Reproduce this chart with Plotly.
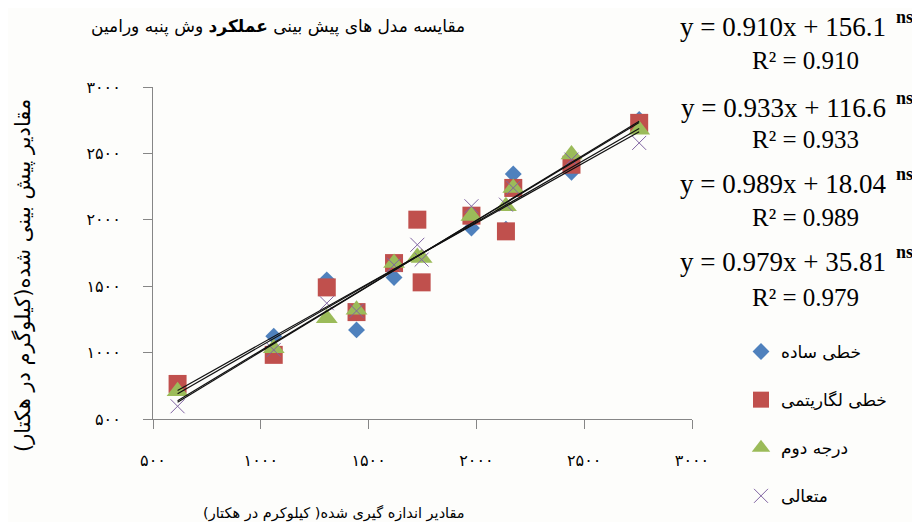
import plotly.graph_objects as go

# ---------------- data ----------------
measured = [614, 1060, 1306, 1444, 1618, 1726, 1746, 1977, 2137, 2171, 2441, 2755]
linear_simple = [750, 1124, 1548, 1171, 1566, 2000, 1530, 1938, 1930, 2345, 2358, 2755]
linear_log = [764, 983, 1491, 1305, 1674, 2001, 1529, 2031, 1913, 2240, 2415, 2730]
second_degree = [709, 1033, 1259, 1322, 1674, 1720, 1712, 2029, 2102, 2240, 2491, 2679]
exponential = [596, 1020, 1372, 1314, 1661, 1812, 1700, 2102, 2114, 2240, 2453, 2579]

series_names = ["خطی ساده", "خطی لگاریتمی", "درجه دوم", "متعالی"]

slopes = [0.910, 0.933, 0.989, 0.979]
intercepts = [156.1, 116.6, 18.04, 35.81]
r2_values = ["0.910", "0.933", "0.989", "0.979"]
eq_texts = ["y = 0.910x + 156.1", "y = 0.933x + 116.6", "y = 0.989x + 18.04", "y = 0.979x + 35.81"]

tick_vals = [500, 1000, 1500, 2000, 2500, 3000]
tick_text = ["۵۰۰", "۱۰۰۰", "۱۵۰۰", "۲۰۰۰", "۲۵۰۰", "۳۰۰۰"]

title_text = "مقایسه مدل های پیش بینی <b>عملکرد</b> وش پنبه ورامین"
x_title = "مقادیر اندازه گیری شده( کیلوکرم در هکتار)"
y_title = "مقادیر پیش بینی شده(کیلوگرم در هکتار)"

# ---------------- layout geometry ----------------
W, H = 920, 522
L, R, T, B = 145, 684, 79, 411


def px(x):
    return (x - L) / (R - L)


def py(y):
    return (B - y) / (B - T)


AR = "DejaVu Sans"
SERIF = "Liberation Serif"

fig = go.Figure()

styles = [
    dict(symbol="diamond", size=13, color="#4F81BD"),
    dict(symbol="square", size=18, color="#C0504D"),
    dict(symbol="triangle-up", size=19, color="#9BBB59"),
]
all_series = [linear_simple, linear_log, second_degree, exponential]

for i in range(3):
    s = styles[i]
    fig.add_trace(go.Scatter(
        x=measured, y=all_series[i], mode="markers", name=series_names[i],
        legendgroup=f"g{i}",
        marker=dict(symbol=s["symbol"], size=s["size"], color=s["color"], line=dict(width=0)),
    ))
fig.add_trace(go.Scatter(
    x=measured, y=exponential, mode="markers", name=series_names[3],
    legendgroup="g3",
    marker=dict(symbol="x-thin-open", size=14, color="#8064A2", line=dict(width=1, color="#8064A2")),
))

xmin, xmax = min(measured), max(measured)
for m, c in zip(slopes, intercepts):
    fig.add_trace(go.Scatter(
        x=[xmin, xmax], y=[m * xmin + c, m * xmax + c], mode="lines",
        line=dict(color="#111111", width=1.2), showlegend=False, hoverinfo="skip",
    ))

ann = []
ann.append(dict(text=title_text, x=px(270), y=py(19), xref="paper", yref="paper",
                showarrow=False, xanchor="center", yanchor="middle",
                font=dict(family=AR, size=17, color="#000")))
ann.append(dict(text=x_title, x=px(326), y=py(505), xref="paper", yref="paper",
                showarrow=False, xanchor="center", yanchor="middle",
                font=dict(family=AR, size=14.5, color="#000")))
ann.append(dict(text=y_title, x=px(15), y=py(268), xref="paper", yref="paper",
                showarrow=False, xanchor="center", yanchor="middle", textangle=-90,
                font=dict(family=AR, size=21, color="#000")))

eq_y = [19, 100, 176, 254]
r2_y = [52, 131, 209, 289]
ns_y = [9, 90, 166, 244]
for i in range(4):
    ann.append(dict(text=eq_texts[i], x=px(880), y=py(eq_y[i]), xref="paper", yref="paper",
                    showarrow=False, xanchor="right", yanchor="middle",
                    font=dict(family=SERIF, size=27, color="#000")))
    ann.append(dict(text="R² = " + r2_values[i], x=px(797), y=py(r2_y[i]), xref="paper", yref="paper",
                    showarrow=False, xanchor="center", yanchor="middle",
                    font=dict(family=SERIF, size=25, color="#000")))
    ann.append(dict(text="<b>ns</b>", x=px(886), y=py(ns_y[i]), xref="paper", yref="paper",
                    showarrow=False, xanchor="left", yanchor="middle",
                    font=dict(family=SERIF, size=18, color="#000")))

axis_common = dict(
    range=[500, 3000], tickmode="array", tickvals=tick_vals, ticktext=tick_text,
    showgrid=False, zeroline=False, showline=True, linecolor="#868686", linewidth=1,
    ticks="outside", ticklen=9, tickcolor="#868686", tickwidth=1,
    tickfont=dict(family=AR, size=16, color="#000"),
)

fig.update_layout(
    width=W, height=H,
    margin=dict(l=L, r=W - R, t=T, b=H - B),
    paper_bgcolor="#fdfdfb", plot_bgcolor="#fdfdfb",
    xaxis=dict(**axis_common, ticklabelstandoff=18),
    yaxis=dict(**axis_common, ticklabelstandoff=19),
    annotations=ann,
    showlegend=True,
    legend=dict(x=px(733), y=py(326), xanchor="left", yanchor="top",
                font=dict(family=AR, size=17, color="#000"),
                bgcolor="rgba(0,0,0,0)", tracegroupgap=23, traceorder="grouped"),
)

fig.write_html("out.html")
